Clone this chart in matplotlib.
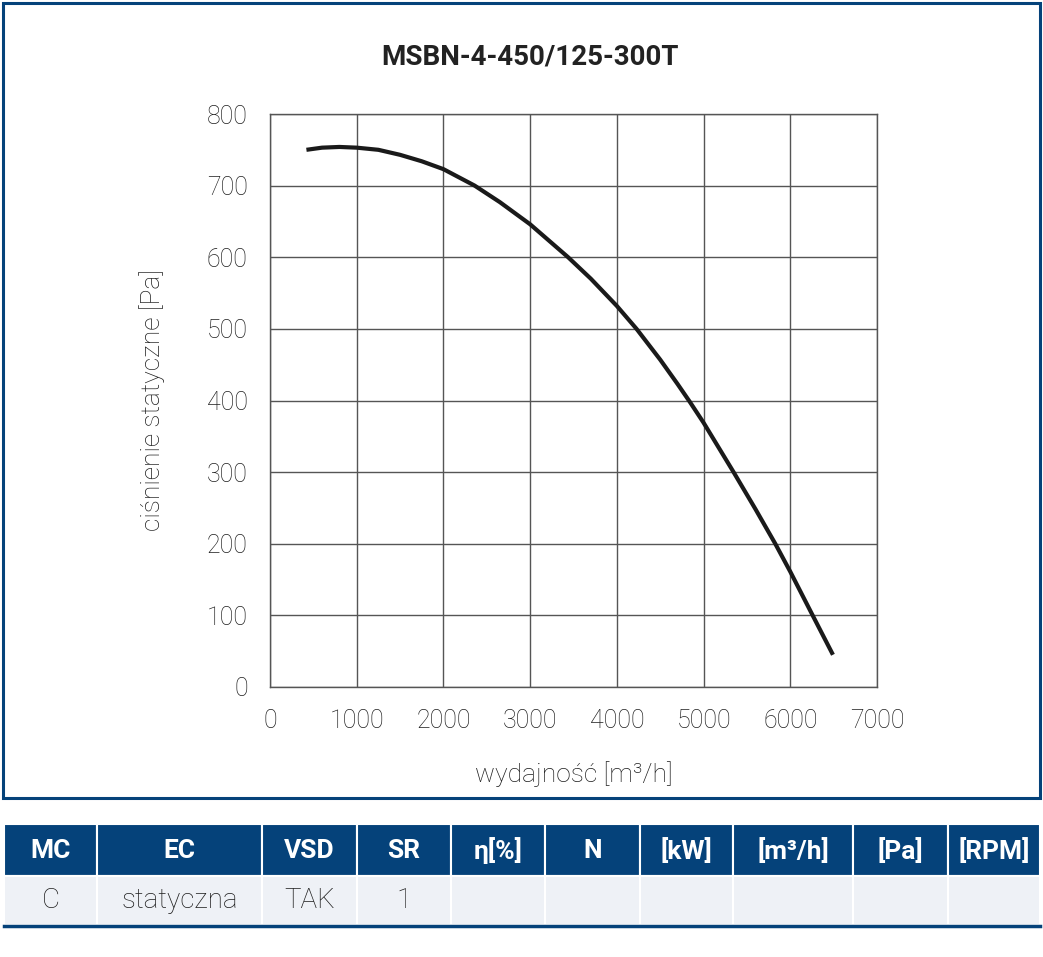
import matplotlib
matplotlib.use('Agg')
import matplotlib.pyplot as plt
from matplotlib.patches import Rectangle

plt.rcParams['font.family'] = ['Roboto', 'DejaVu Sans']

# dane krzywej
flow = [420, 600, 800, 1000, 1250, 1500, 1750, 2000, 2360, 2650, 3000, 3438,
        3700, 4000, 4227, 4500, 4700, 4842, 5000, 5346, 5600, 5827, 6000,
        6258, 6492]
pressure = [750, 753, 754, 753, 750, 743, 734, 723, 700, 677, 646, 600,
            570, 532, 500, 457, 423, 398, 369, 300, 248, 200, 161, 100, 45]

x_ticks = [0, 1000, 2000, 3000, 4000, 5000, 6000, 7000]
y_ticks = [0, 100, 200, 300, 400, 500, 600, 700, 800]

title = 'MSBN-4-450/125-300T'

# tabela
headers = ['MC', 'EC', 'VSD', 'SR', 'η[%]', 'N', '[kW]', '[m³/h]', '[Pa]', '[RPM]']
row = ['C', 'statyczna', 'TAK', '1', '', '', '', '', '', '']
col_edges = [4, 97, 262, 357, 451, 545, 640, 733, 853, 948, 1040]

W, H = 1043, 957
blue = '#05427a'
text_col = '#1e1e1e'

fig = plt.figure(figsize=(W / 100, H / 100), dpi=100)

# ramka
fig.patches.append(Rectangle((3 / W, 1 - 798 / H), 1037 / W, 795 / H,
                             transform=fig.transFigure, fill=False,
                             edgecolor=blue, linewidth=2.2))

fig.text(530 / W, 1 - 57 / H, title, ha='center', va='center',
         fontsize=20, fontweight='bold', color='#222222')

ax = fig.add_axes([270 / W, 1 - 687 / H, 607 / W, 573 / H])
ax.plot(flow, pressure, color='#1a1a1a', linewidth=3, solid_capstyle='butt')
ax.set_xlim(0, 7000)
ax.set_ylim(0, 800)
ax.set_xticks(x_ticks)
ax.set_yticks(y_ticks)
ax.grid(True, color='#555555', linewidth=1)
ax.set_axisbelow(True)
for s in ax.spines.values():
    s.set_color('#555555')
    s.set_linewidth(1)
ax.tick_params(length=0, labelsize=18, labelcolor=text_col, pad=16)
for lbl in ax.get_xticklabels() + ax.get_yticklabels():
    lbl.set_fontweight('light')
ax.set_xlabel('wydajność [m³/h]', fontsize=19, color=text_col,
              fontweight='light', labelpad=20)
ax.set_ylabel('ciśnienie statyczne [Pa]', fontsize=19, color=text_col,
              fontweight='light', labelpad=30)

# tabela pod wykresem
tab = fig.add_axes([0, 0, 1, 1])
tab.set_xlim(0, W)
tab.set_ylim(H, 0)
tab.axis('off')
for i in range(len(headers)):
    x0, x1 = col_edges[i], col_edges[i + 1]
    tab.add_patch(Rectangle((x0, 824), x1 - x0, 52, facecolor=blue,
                            edgecolor='white', linewidth=1.5))
    tab.add_patch(Rectangle((x0, 876), x1 - x0, 49, facecolor='#eef1f6',
                            edgecolor='white', linewidth=1.5))
    tab.text((x0 + x1) / 2, 851, headers[i], ha='center', va='center',
             color='white', fontsize=19, fontweight='bold')
    tab.text((x0 + x1) / 2, 901, row[i], ha='center', va='center',
             color=text_col, fontsize=20, fontweight='light')
tab.plot([4, 1040], [926, 926], color=blue, linewidth=2.5)

fig.savefig('out.png', dpi=100)
